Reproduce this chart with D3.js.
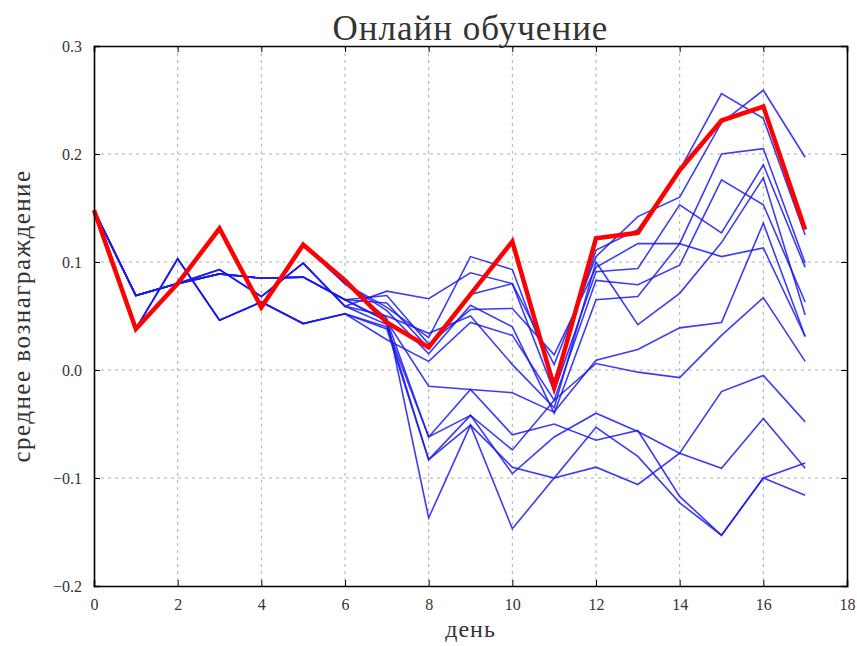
<!DOCTYPE html>
<html><head><meta charset="utf-8">
<script src="https://cdn.jsdelivr.net/npm/d3@7"></script>
<style>body{margin:0;background:#fff}</style>
</head><body>
<svg id="c" width="857" height="646"></svg>
<script>
const days = d3.range(0, 18);
const xTicks = [0, 2, 4, 6, 8, 10, 12, 14, 16, 18];
const yTicks = [-0.2, -0.1, 0.0, 0.1, 0.2, 0.3];
const titleText = "Онлайн обучение";
const xLabel = "день";
const yLabel = "среднее вознаграждение";

const meanReward = [0.148, 0.038, 0.080, 0.131, 0.058, 0.116, 0.083, 0.044, 0.021, 0.070, 0.119, -0.016, 0.122, 0.127, 0.185, 0.231, 0.244, 0.130];

const runs = [
  [0.148, 0.069, 0.080, 0.093, 0.068, 0.099, 0.059, 0.073, 0.066, 0.090, 0.080, 0.005, 0.105, 0.142, 0.160, 0.229, 0.259, 0.197],
  [0.148, 0.038, 0.080, 0.131, 0.058, 0.116, 0.080, 0.058, 0.030, 0.105, 0.093, -0.010, 0.111, 0.130, 0.185, 0.256, 0.233, 0.125],
  [0.148, 0.069, 0.080, 0.089, 0.085, 0.086, 0.065, 0.069, 0.024, 0.056, 0.057, 0.014, 0.095, 0.117, 0.117, 0.200, 0.205, 0.099],
  [0.148, 0.069, 0.080, 0.089, 0.085, 0.086, 0.065, 0.062, 0.020, 0.070, 0.080, -0.020, 0.091, 0.094, 0.153, 0.127, 0.190, 0.095],
  [0.148, 0.038, 0.103, 0.046, 0.063, 0.043, 0.052, 0.028, 0.008, 0.044, 0.032, -0.028, 0.083, 0.079, 0.097, 0.176, 0.153, 0.063],
  [0.148, 0.069, 0.080, 0.093, 0.068, 0.099, 0.059, 0.050, 0.034, 0.050, 0.005, -0.035, 0.100, 0.042, 0.071, 0.118, 0.178, 0.051],
  [0.148, 0.038, 0.080, 0.131, 0.058, 0.116, 0.080, 0.055, 0.015, 0.060, 0.040, -0.040, 0.065, 0.068, 0.117, 0.105, 0.113, 0.031],
  [0.148, 0.069, 0.080, 0.089, 0.085, 0.086, 0.065, 0.045, -0.015, -0.018, -0.021, -0.039, 0.009, 0.019, 0.039, 0.044, 0.136, 0.031],
  [0.148, 0.038, 0.103, 0.046, 0.063, 0.043, 0.052, 0.040, -0.062, -0.042, -0.074, -0.028, 0.006, -0.002, -0.007, 0.032, 0.067, 0.008],
  [0.148, 0.069, 0.080, 0.093, 0.068, 0.099, 0.059, 0.042, -0.083, -0.042, -0.096, -0.062, -0.040, -0.057, -0.077, -0.091, -0.045, -0.091],
  [0.148, 0.038, 0.080, 0.131, 0.058, 0.116, 0.080, 0.048, -0.137, -0.051, -0.147, -0.100, -0.090, -0.106, -0.077, -0.020, -0.005, -0.048],
  [0.148, 0.069, 0.080, 0.089, 0.085, 0.086, 0.065, 0.046, -0.062, -0.018, -0.060, -0.050, -0.065, -0.056, -0.117, -0.153, -0.100, -0.086],
  [0.148, 0.038, 0.103, 0.046, 0.063, 0.043, 0.052, 0.038, -0.083, -0.051, -0.090, -0.100, -0.053, -0.080, -0.123, -0.153, -0.100, -0.116]
];

const M = {left: 94, right: 847, top: 46, bottom: 586};
const svg = d3.select("#c");
const x = d3.scaleLinear().domain([0, 18]).range([M.left, M.right]);
const y = d3.scaleLinear().domain([-0.2, 0.3]).range([M.bottom, M.top]);
const font = "'Liberation Serif', 'DejaVu Serif', serif";
const fmtY = v => (v < 0 ? "\u2212" : "") + Math.abs(v).toFixed(1);

// grid
const grid = svg.append("g").attr("stroke", "#999").attr("stroke-width", 0.8).attr("stroke-dasharray", "3,4");
grid.selectAll("line.gx").data(xTicks.slice(1, -1)).join("line")
  .attr("x1", d => x(d)).attr("x2", d => x(d)).attr("y1", M.top).attr("y2", M.bottom);
grid.selectAll("line.gy").data(yTicks.slice(1, -1)).join("line")
  .attr("x1", M.left).attr("x2", M.right).attr("y1", d => y(d)).attr("y2", d => y(d));

// lines
const line = d3.line().x((d, i) => x(days[i])).y(d => y(d));
svg.append("g").selectAll("path").data(runs).join("path")
  .attr("d", line).attr("fill", "none").attr("stroke", "#1a1aee").attr("stroke-opacity", 0.85)
  .attr("stroke-width", 1.6).attr("stroke-linejoin", "miter");
svg.append("path").datum(meanReward).attr("d", line).attr("fill", "none")
  .attr("stroke", "#ff0000").attr("stroke-width", 4.5).attr("stroke-linejoin", "miter");

// axes (inward ticks on all sides)
const tl = -6;
svg.append("g").attr("transform", `translate(0,${M.bottom})`)
  .call(d3.axisBottom(x).tickValues(xTicks).tickSize(tl).tickPadding(13).tickFormat(d3.format("d")));
svg.append("g").attr("transform", `translate(0,${M.top})`)
  .call(d3.axisTop(x).tickValues(xTicks).tickSize(tl).tickFormat(""));
svg.append("g").attr("transform", `translate(${M.left},0)`)
  .call(d3.axisLeft(y).tickValues(yTicks).tickSize(tl).tickPadding(12).tickFormat(fmtY));
svg.append("g").attr("transform", `translate(${M.right},0)`)
  .call(d3.axisRight(y).tickValues(yTicks).tickSize(tl).tickFormat(""));
svg.selectAll(".domain").attr("stroke", "#000").attr("stroke-width", 1.6);
svg.selectAll(".tick line").attr("stroke", "#000");
svg.selectAll(".tick text").attr("font-family", font).attr("font-size", 16).attr("fill", "#333");

// labels
svg.append("text").attr("x", (M.left + M.right) / 2).attr("y", 40).attr("text-anchor", "middle")
  .attr("font-family", font).attr("font-size", 35).attr("letter-spacing", 1).attr("fill", "#333").text(titleText);
svg.append("text").attr("x", (M.left + M.right) / 2).attr("y", 637).attr("text-anchor", "middle")
  .attr("font-family", font).attr("font-size", 24).attr("letter-spacing", 1).attr("fill", "#333").text(xLabel);
svg.append("text").attr("transform", `translate(30,${(M.top + M.bottom) / 2}) rotate(-90)`)
  .attr("text-anchor", "middle").attr("font-family", font).attr("font-size", 25).attr("letter-spacing", 1.5)
  .attr("fill", "#333").text(yLabel);
</script>
</body></html>
